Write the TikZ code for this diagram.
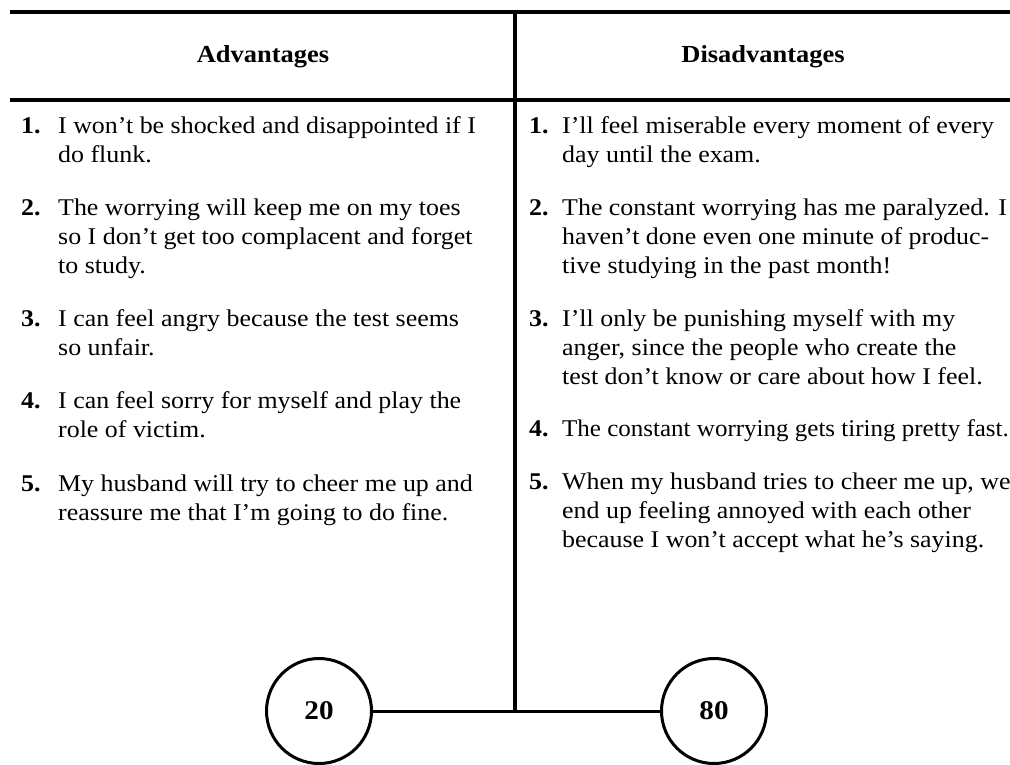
\documentclass[tikz,border=0pt]{standalone}
\usepackage{fontspec}
\setmainfont{Liberation Serif}[FakeStretch=1.08]
\begin{document}
\begin{tikzpicture}[x=1pt,y=-1pt,
  body/.style={anchor=base west, inner sep=0pt, font=\fontsize{24}{29}\selectfont},
  num/.style={anchor=base west, inner sep=0pt, font=\fontsize{24}{29}\selectfont\bfseries},
  head/.style={inner sep=0pt, font=\fontsize{24.5}{28}\selectfont\bfseries},
  rule/.style={line width=4pt},
  link/.style={line width=3pt},
  ring/.style={circle, draw, line width=3pt, minimum size=105pt, inner sep=0pt,
               font=\fontsize{27}{30}\selectfont\bfseries}]
\useasboundingbox (0,0) rectangle (1010,764);
\clip (0,0) rectangle (1010,764);

% table rules
\draw[rule] (10,12) -- (1012,12);
\draw[rule] (10,100) -- (1012,100);

% headings
\node[head] (hadv) at (263,57) {Advantages};
\node[head] (hdis) at (763,57) {Disadvantages};

% left column
\node[num]  (l1) at (21,133) {1.};
\node[body] (l1a) at (58,133) {I won’t be shocked and disappointed if I};
\node[body] (l1b) at (58,162) {do flunk.};
\node[num]  (l2) at (21,215) {2.};
\node[body] (l2a) at (58,215) {The worrying will keep me on my toes};
\node[body] (l2b) at (58,244) {so I don’t get too complacent and forget};
\node[body] (l2c) at (58,273) {to study.};
\node[num]  (l3) at (21,326) {3.};
\node[body] (l3a) at (58,326) {I can feel angry because the test seems};
\node[body] (l3b) at (58,355) {so unfair.};
\node[num]  (l4) at (21,408) {4.};
\node[body] (l4a) at (58,408) {I can feel sorry for myself and play the};
\node[body] (l4b) at (58,437) {role of victim.};
\node[num]  (l5) at (21,491) {5.};
\node[body] (l5a) at (58,491) {My husband will try to cheer me up and};
\node[body] (l5b) at (58,520) {reassure me that I’m going to do fine.};

% right column
\node[num]  (r1) at (529,133) {1.};
\node[body] (r1a) at (562,133) {I’ll feel miserable every moment of every};
\node[body] (r1b) at (562,162) {day until the exam.};
\node[num]  (r2) at (529,215) {2.};
\node[body] (r2a) at (562,215) {The constant worrying has me paralyzed. I};
\node[body] (r2b) at (562,244) {haven’t done even one minute of produc-};
\node[body] (r2c) at (562,273) {tive studying in the past month!};
\node[num]  (r3) at (529,326) {3.};
\node[body] (r3a) at (562,326) {I’ll only be punishing myself with my};
\node[body] (r3b) at (562,355) {anger, since the people who create the};
\node[body] (r3c) at (562,384) {test don’t know or care about how I feel.};
\node[num]  (r4) at (529,436) {4.};
\node[body] (r4a) at (562,436) {\scalebox{0.965}[1]{The constant worrying gets tiring pretty fast.}};
\node[num]  (r5) at (529,489) {5.};
\node[body] (r5a) at (562,489) {When my husband tries to cheer me up, we};
\node[body] (r5b) at (562,518) {end up feeling annoyed with each other};
\node[body] (r5c) at (562,547) {because I won’t accept what he’s saying.};

% score circles and their connectors
\node[ring] (c20) at (319,711) {20};
\node[ring] (c80) at (714,711) {80};
\coordinate (top) at (515,10);
\coordinate (mid) at (515,711);
\draw[rule] (top) -- (mid);
\draw[link] (c20.east) -- (c80.west);
\end{tikzpicture}
\end{document}
